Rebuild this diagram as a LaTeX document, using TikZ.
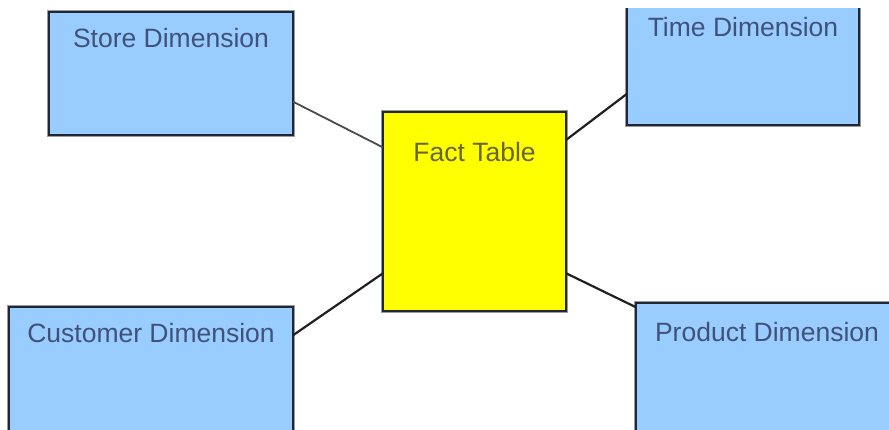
\documentclass[tikz,border=0pt]{standalone}
\usepackage{fontspec}
\setmainfont{Liberation Sans}
\begin{document}
\begin{tikzpicture}[x=1pt,y=-1pt,
  box/.style={rectangle, inner sep=0pt, outer sep=0pt, draw=boxedge, line width=2.6pt,
    preaction={draw=boxhalo, line width=4.4pt}},
  dim/.style={box, fill=dimfill},
  fact/.style={box, fill=factfill},
  lbl/.style={inner sep=0pt, anchor=north, font=\fontsize{26.5}{31}\selectfont},
  dimlbl/.style={lbl, text=dimtext},
  factlbl/.style={lbl, text=facttext},
  link/.style={draw=linkcol, line width=2.2pt},
]
\definecolor{dimfill}{HTML}{99CCFF}
\definecolor{factfill}{HTML}{FFFF00}
\definecolor{boxedge}{HTML}{1F2736}
\definecolor{boxhalo}{HTML}{9A9A9A}
\definecolor{dimtext}{HTML}{41527A}
\definecolor{facttext}{HTML}{66662A}
\definecolor{linkcol}{HTML}{202020}
\definecolor{softlink}{HTML}{4A4A4A}

\useasboundingbox (0,0) rectangle (889,429);
\clip (0,8) rectangle (889,429);

% dimension tables around the central fact table
\node[dim, minimum width=244pt, minimum height=123pt,
  label={[dimlbl, label distance=-16pt]north:Store Dimension}] (store) at (171,73.5) {};
\node[dim, minimum width=232pt, minimum height=129pt,
  label={[dimlbl, label distance=-21pt]north:Time Dimension}] (time) at (743,60.5) {};
\node[dim, minimum width=284pt, minimum height=138pt,
  label={[dimlbl, label distance=-16pt]north:Customer Dimension}] (cust) at (151,376) {};
\node[dim, minimum width=262pt, minimum height=142pt,
  label={[dimlbl, label distance=-19pt]north:Product Dimension}] (prod) at (767,374) {};

% fact table
\node[fact, minimum width=183pt, minimum height=199pt,
  label={[factlbl, label distance=-30pt]north:Fact Table}] (factt) at (474.5,211.5) {};

% links between the fact table and each dimension
\draw[link, draw=softlink, line width=1.8pt] (store.-13.15) -- (factt.145.67);
\draw[link] (factt.38) -- (time.196.56);
\draw[link] (factt.214.8) -- (cust.16.85);
\draw[link] (factt.-34.8) -- (prod.153.96);
\end{tikzpicture}
\end{document}
